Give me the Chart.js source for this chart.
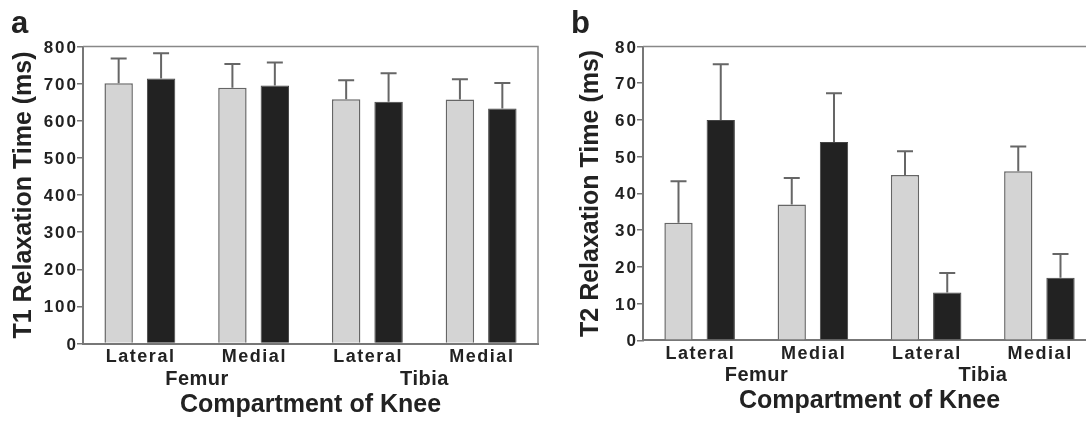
<!DOCTYPE html>
<html>
<head>
<meta charset="utf-8">
<script src="https://cdn.jsdelivr.net/npm/chart.js@4.4.1/dist/chart.umd.min.js"></script>
<style>
  html, body { margin: 0; padding: 0; background: #fff; overflow: hidden; width: 1086px; height: 422px; }
  .panel { position: absolute; top: 0; width: 548px; height: 422px; }
</style>
</head>
<body>
<div class="panel" style="left:0"><canvas id="t1Chart" width="548" height="422"></canvas></div>
<div class="panel" style="left:560px"><canvas id="t2Chart" width="548" height="422"></canvas></div>
<script>
const compartments = ['Lateral', 'Medial', 'Lateral', 'Medial'];
const regions = ['Femur', 'Tibia'];
const seriesNames = ['Group A', 'Group B'];

const t1Ticks = [0, 100, 200, 300, 400, 500, 600, 700, 800];
const t1Gray = [701, 689, 658, 657];
const t1GraySd = [67, 64, 51, 55];
const t1Black = [714, 695, 651, 633];
const t1BlackSd = [68, 62, 77, 69];

const t2Ticks = [0, 10, 20, 30, 40, 50, 60, 70, 80];
const t2Gray = [32, 37, 45, 46];
const t2GraySd = [11.3, 7.2, 6.5, 6.8];
const t2Black = [60, 54, 13, 17];
const t2BlackSd = [15.2, 13.3, 5.3, 6.5];

const fontFamily = '"Liberation Sans", Arial, Helvetica, sans-serif';
const textColor = '#222';
const axisColor = '#777';

function drawText(ctx, str, x, y, size, align, spacing) {
  ctx.font = 'bold ' + size + 'px ' + fontFamily;
  ctx.letterSpacing = spacing + 'px';
  ctx.textAlign = align;
  ctx.textBaseline = 'alphabetic';
  let dx = 0;
  if (align === 'center') dx = spacing / 2;
  if (align === 'right') dx = spacing;
  ctx.fillText(str, x + dx, y);
}

// upper error bars, drawn from each bar top
const errorBars = {
  id: 'errorBars',
  afterDatasetsDraw(chart, args, opts) {
    const { ctx, scales: { y } } = chart;
    ctx.save();
    ctx.strokeStyle = '#666';
    ctx.lineWidth = 2;
    chart.data.datasets.forEach((ds, i) => {
      const meta = chart.getDatasetMeta(i);
      meta.data.forEach((bar, j) => {
        const top = y.getPixelForValue(ds.data[j] + opts.sd[i][j]);
        ctx.beginPath();
        ctx.moveTo(bar.x, bar.y);
        ctx.lineTo(bar.x, top);
        ctx.moveTo(bar.x - 8, top);
        ctx.lineTo(bar.x + 8, top);
        ctx.stroke();
      });
    });
    ctx.restore();
  }
};

const panelText = {
  id: 'panelText',
  afterDraw(chart, args, opts) {
    const { ctx, chartArea: a, scales: { x, y } } = chart;
    ctx.save();
    ctx.strokeStyle = '#888';
    ctx.lineWidth = 1.5;
    ctx.beginPath();
    ctx.moveTo(a.left, a.top);
    ctx.lineTo(a.right, a.top);
    ctx.lineTo(a.right, a.bottom);
    ctx.stroke();

    ctx.fillStyle = textColor;
    drawText(ctx, opts.letter, 11, 33, 31, 'left', 0);
    opts.ticks.forEach(v => drawText(ctx, String(v), a.left - 7, y.getPixelForValue(v) + 6, 17, 'right', 2));
    compartments.forEach((c, i) => drawText(ctx, c, x.getPixelForValue(i), a.bottom + 18.5, 18, 'center', 1.5));
    regions.forEach((r, k) => {
      const cx = (x.getPixelForValue(2 * k) + x.getPixelForValue(2 * k + 1)) / 2;
      drawText(ctx, r, cx, a.bottom + 41, 20, 'center', 0.5);
    });
    drawText(ctx, 'Compartment of Knee', (a.left + a.right) / 2, a.bottom + 68, 25, 'center', 0);

    ctx.translate(opts.titleX, (a.top + a.bottom) / 2);
    ctx.rotate(-Math.PI / 2);
    drawText(ctx, opts.yTitle, 0, 0, 25, 'center', 0);
    ctx.restore();
  }
};

function makeChart(id, gray, black, graySd, blackSd, ticks, letter, yTitle, titleX, pad) {
  const ctx = document.getElementById(id).getContext('2d');
  new Chart(ctx, {
    type: 'bar',
    data: {
      labels: compartments,
      datasets: [{
        label: seriesNames[0],
        data: gray,
        backgroundColor: '#d4d4d4',
        borderColor: '#666',
        borderWidth: 1.5
      }, {
        label: seriesNames[1],
        data: black,
        backgroundColor: '#222',
        borderColor: '#444',
        borderWidth: 1
      }]
    },
    options: {
      responsive: false,
      animation: false,
      categoryPercentage: 0.746,
      barPercentage: 0.67,
      layout: { padding: pad },
      plugins: {
        legend: { display: false },
        tooltip: { enabled: false },
        errorBars: { sd: [graySd, blackSd] },
        panelText: { letter: letter, ticks: ticks, yTitle: yTitle, titleX: titleX }
      },
      scales: {
        x: {
          grid: { display: false },
          ticks: { display: false },
          border: { color: axisColor, width: 2 }
        },
        y: {
          min: ticks[0],
          max: ticks[ticks.length - 1],
          ticks: { display: false, stepSize: ticks[1] - ticks[0] },
          grid: { drawOnChartArea: false, tickLength: 6, color: axisColor, lineWidth: 1.5 },
          border: { color: axisColor, width: 2 }
        }
      }
    },
    plugins: [errorBars, panelText]
  });
}

makeChart('t1Chart', t1Gray, t1Black, t1GraySd, t1BlackSd, t1Ticks, 'a',
  'T1 Relaxation Time (ms)', 31, { left: 77, top: 46.5, right: 10, bottom: 70.5 });
makeChart('t2Chart', t2Gray, t2Black, t2GraySd, t2BlackSd, t2Ticks, 'b',
  'T2 Relaxation Time (ms)', 38, { left: 77, top: 46.5, right: 12, bottom: 73.7 });
</script>
</body>
</html>
